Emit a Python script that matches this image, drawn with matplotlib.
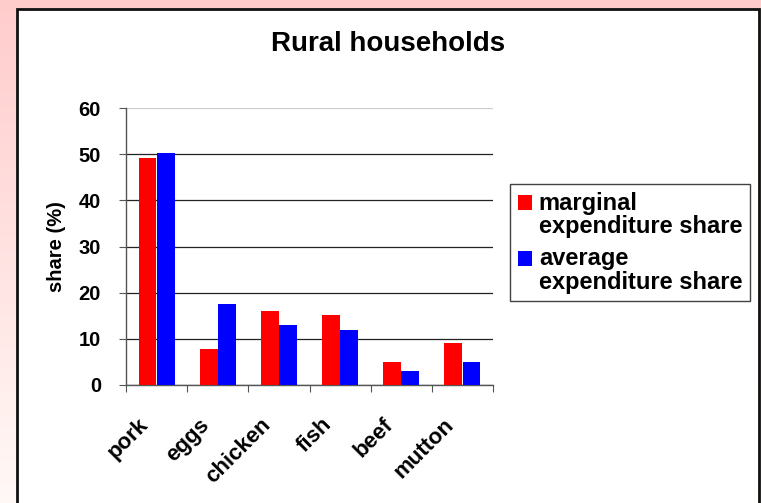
import numpy as np
import matplotlib
matplotlib.use("Agg")
import matplotlib.pyplot as plt
from matplotlib.patches import Rectangle
from matplotlib.container import BarContainer
from matplotlib.legend_handler import HandlerPatch
from matplotlib.transforms import ScaledTranslation

plt.rcParams['font.family'] = ['Liberation Sans', 'DejaVu Sans']
plt.rcParams['font.weight'] = 'bold'

# datos
categorias = ['pork', 'eggs', 'chicken', 'fish', 'beef', 'mutton']
marginal = [49.2, 7.7, 16.1, 15.1, 4.9, 9.1]
promedio = [50.2, 17.6, 13.1, 11.9, 3.0, 4.9]
etiquetas_serie = ['marginal\nexpenditure share', 'average\nexpenditure share']

W, H = 761, 503
fig = plt.figure(figsize=(W / 100, H / 100), dpi=100)

# fondo rosado con degradado
fondo = fig.add_axes([0, 0, 1, 1], zorder=-10)
grad = np.linspace(0, 1, 256).reshape(-1, 1)
c_top = np.array([1.0, 0.80, 0.80])
c_bot = np.array([1.0, 0.975, 0.965])
img = c_top[None, None, :] * (1 - grad[:, :, None]) + c_bot[None, None, :] * grad[:, :, None]
fondo.imshow(img, aspect='auto', extent=[0, 1, 0, 1])
fondo.set_xlim(0, 1)
fondo.set_ylim(0, 1)
fondo.axis('off')

# panel blanco con borde negro
fondo.add_patch(Rectangle((17 / W, -0.05), (759 - 17) / W, 1.05 - 9 / H,
                          facecolor='white', edgecolor='#111111', linewidth=2,
                          transform=fondo.transAxes, zorder=2))

ax = fig.add_axes([126 / W, 1 - 385 / H, (493 - 126) / W, (385 - 108) / H])
ax.set_facecolor('none')

x = np.arange(len(categorias))
ancho = 0.29
ax.bar(x - 0.148, marginal, ancho, color='#FF0000', zorder=3)
ax.bar(x + 0.148, promedio, ancho, color='#0000FF', zorder=3)

ax.set_xlim(-0.5, len(categorias) - 0.5)
ax.set_ylim(0, 60)
ax.set_yticks(range(0, 61, 10))
ax.yaxis.grid(True, color='#222222', linewidth=0.9, zorder=0)
ax.get_ygridlines()[-1].set_color('#cccccc')
ax.set_axisbelow(True)

for s in ['top', 'right']:
    ax.spines[s].set_visible(False)
for s in ['left', 'bottom']:
    ax.spines[s].set_color('#555555')
    ax.spines[s].set_linewidth(1)

ax.set_xticks(np.arange(-0.5, len(categorias)), [])
ax.tick_params(axis='x', which='major', length=5, color='#555555', direction='out')
ax.set_xticks(x, categorias, minor=True)
ax.tick_params(axis='x', which='minor', length=0, pad=21, labelsize=16)
for lab in ax.get_xticklabels(minor=True):
    lab.set_rotation(45)
    lab.set_ha('right')
    lab.set_va('top')
    lab.set_rotation_mode('anchor')
    lab.set_fontweight('bold')
    lab.set_transform(lab.get_transform() + ScaledTranslation(-0.19, 0, fig.dpi_scale_trans))

ax.tick_params(axis='y', length=5, color='#555555', labelsize=14.5, pad=13)
for lab in ax.get_yticklabels():
    lab.set_fontweight('bold')

ax.set_ylabel('share (%)', fontsize=14.5, fontweight='bold', labelpad=9)

fig.text(388 / W, 1 - 51 / H, 'Rural households', ha='center', va='baseline',
         fontsize=20, fontweight='bold')


# cuadrito de la leyenda alineado con la primera linea del texto
def cuadro_arriba(legend, orig_handle, xdescent, ydescent, width, height, fontsize):
    return Rectangle((-xdescent, -ydescent + 0.55 * fontsize), width, height)


def copiar_estilo(legend_handle, orig_handle):
    legend_handle.update_from(orig_handle.patches[0])


leg = ax.legend(etiquetas_serie, loc='upper left',
                bbox_to_anchor=(510 / W, 1 - 184 / H), bbox_transform=fig.transFigure,
                fontsize=17, frameon=True, fancybox=False, handlelength=0.6,
                handleheight=0.6, handletextpad=0.3, borderpad=0.32, labelspacing=0.36,
                borderaxespad=0,
                handler_map={BarContainer: HandlerPatch(patch_func=cuadro_arriba,
                                                        update_func=copiar_estilo)})
leg.get_frame().set_edgecolor('#111111')
leg.get_frame().set_linewidth(1)
for t in leg.get_texts():
    t.set_fontweight('bold')
    t.set_linespacing(1.05)

fig.savefig('out.png', dpi=100)
